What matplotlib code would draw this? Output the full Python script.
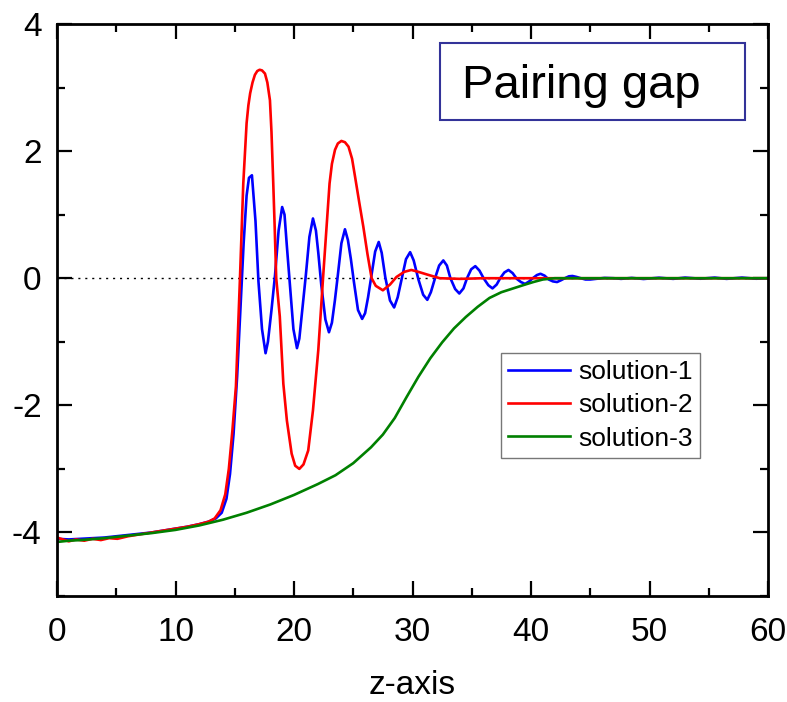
import matplotlib
matplotlib.use("Agg")
import matplotlib.pyplot as plt
from matplotlib.patches import Rectangle
from matplotlib.ticker import MultipleLocator

plt.rcParams['font.family'] = ['Liberation Sans', 'DejaVu Sans']
plt.rcParams['axes.unicode_minus'] = False

# ---------------- data ----------------
x1 = [0, 1, 2, 3, 4, 5, 6, 7, 8, 9, 10, 11, 12, 12.8, 13.4, 13.9, 14.3, 14.6, 14.9, 15.2,
      15.5, 15.75, 16.0, 16.2, 16.45, 16.75, 17.0, 17.3, 17.6, 17.8, 18.1, 18.4, 18.7, 19.0,
      19.2, 19.4, 19.65, 19.95, 20.25, 20.45, 20.7, 21.0, 21.3, 21.6, 21.85, 22.05, 22.3,
      22.65, 22.95, 23.2, 23.45, 23.7, 24.0, 24.3, 24.55, 24.8, 25.05, 25.4, 25.75, 26.0,
      26.25, 26.5, 26.85, 27.15, 27.4, 27.7, 28.1, 28.45, 28.75, 29.1, 29.45, 29.8, 30.1,
      30.5, 30.9, 31.25, 31.55, 31.9, 32.25, 32.6, 32.9, 33.2, 33.6, 33.95, 34.3, 34.6,
      34.95, 35.3, 35.65, 36.0, 36.4, 36.75, 37.1, 37.4, 37.75, 38.1, 38.45, 38.8, 39.15,
      39.5, 39.85, 40.15, 40.5, 40.8, 41.15, 41.5, 41.85, 42.2, 42.55, 42.85, 43.2, 43.5,
      43.85, 44.2, 44.6, 45.0, 45.5, 46.2, 47.0, 47.6, 48.5, 49.5, 50.8, 52.0, 53.0, 54.3,
      55.5, 56.5, 57.8, 59.0, 60.0]
y1 = [-4.10, -4.11, -4.10, -4.09, -4.08, -4.06, -4.04, -4.02, -4.00, -3.97, -3.94, -3.91,
      -3.87, -3.83, -3.78, -3.69, -3.47, -3.08, -2.45, -1.55, -0.40, 0.55, 1.30, 1.58, 1.62,
      0.90, -0.05, -0.80, -1.18, -1.00, -0.50, 0.05, 0.75, 1.12, 1.00, 0.50, -0.10, -0.80,
      -1.10, -0.95, -0.50, 0.05, 0.65, 0.94, 0.75, 0.40, -0.10, -0.65, -0.85, -0.70, -0.35,
      0.05, 0.55, 0.77, 0.60, 0.30, -0.05, -0.50, -0.64, -0.55, -0.30, 0.00, 0.42, 0.57,
      0.40, 0.02, -0.35, -0.46, -0.30, 0.00, 0.30, 0.41, 0.28, -0.02, -0.26, -0.34, -0.22,
      0.00, 0.20, 0.28, 0.20, 0.00, -0.17, -0.24, -0.16, 0.00, 0.14, 0.19, 0.12, 0.00,
      -0.11, -0.16, -0.10, 0.00, 0.09, 0.13, 0.08, -0.01, -0.06, -0.09, -0.05, 0.00, 0.05,
      0.07, 0.04, -0.02, -0.05, -0.06, -0.03, 0.00, 0.03, 0.035, 0.02, 0.00, -0.02, -0.02,
      -0.01, 0.005, 0.00, -0.01, 0.005, -0.012, 0.008, -0.01, 0.01, -0.008, 0.01, -0.01,
      0.01, -0.008, 0.00]

x2 = [0, 0.5, 1.0, 1.6, 2.3, 3.0, 3.7, 4.4, 5.1, 6.0, 7, 8, 9, 10, 11, 12, 12.8, 13.3, 13.8,
      14.2, 14.5, 14.8, 15.1, 15.44, 15.72, 16.0, 16.15, 16.3, 16.5, 16.7, 16.9, 17.1, 17.3,
      17.55, 17.75, 17.97, 18.1, 18.25, 18.37, 18.5, 18.8, 19.1, 19.4, 19.8, 20.1, 20.45,
      20.8, 21.2, 21.6, 22.05, 22.45, 23.0, 23.2, 23.46, 23.7, 24.0, 24.3, 24.6, 24.9, 25.15,
      25.5, 25.85, 26.2, 26.55, 26.9, 27.5, 28.1, 28.65, 29.3, 29.9, 30.5, 31.2, 32.3, 34.0,
      36.0, 40.0, 45.0, 50.0, 55.0, 60.0]
y2 = [-4.08, -4.11, -4.14, -4.11, -4.13, -4.10, -4.12, -4.09, -4.10, -4.06, -4.03, -4.00,
      -3.97, -3.94, -3.91, -3.87, -3.83, -3.78, -3.65, -3.40, -3.00, -2.40, -1.70, 0.00,
      1.49, 2.44, 2.72, 2.91, 3.08, 3.20, 3.26, 3.28, 3.27, 3.22, 3.08, 2.80, 2.30, 1.49,
      0.80, 0.00, -0.60, -1.66, -2.24, -2.76, -2.95, -3.00, -2.93, -2.71, -2.08, -1.13, 0.00,
      1.49, 1.80, 2.02, 2.12, 2.16, 2.14, 2.07, 1.88, 1.60, 1.20, 0.81, 0.38, 0.00, -0.12,
      -0.19, -0.10, 0.02, 0.10, 0.13, 0.10, 0.06, 0.00, -0.01, 0.00, 0.00, 0.00, 0.00, 0.00,
      0.00]

x3 = [0, 1, 2, 4, 6, 8, 10, 12, 14, 16, 18, 20, 22, 23.5, 25, 26.5, 27.5, 28.5, 29.5, 30.5,
      31.5, 32.5, 33.5, 34.5, 35.5, 36.5, 37.5, 38.5, 39.5, 40.2, 41, 42, 45, 50, 55, 60]
y3 = [-4.15, -4.13, -4.12, -4.09, -4.05, -4.01, -3.96, -3.89, -3.80, -3.69, -3.56, -3.41,
      -3.24, -3.10, -2.91, -2.66, -2.46, -2.20, -1.87, -1.55, -1.26, -1.01, -0.79, -0.61,
      -0.45, -0.31, -0.22, -0.16, -0.10, -0.06, -0.02, 0.00, 0.00, 0.00, 0.00, 0.00]

labels = ['solution-1', 'solution-2', 'solution-3']
colors = ['#0000FF', '#FF0000', '#008000']
title_text = 'Pairing gap'
xlabel = 'z-axis'

# ---------------- figure ----------------
W, H = 787, 702
fig = plt.figure(figsize=(W / 100, H / 100), dpi=100)
ax = fig.add_axes([57 / W, 1 - 596 / H, (768 - 57) / W, (596 - 24) / H])

ax.axhline(0, color='black', lw=1.0, ls=(0, (1.5, 3.5)), zorder=1)
for xs, ys, c, lab in zip([x1, x2, x3], [y1, y2, y3], colors, labels):
    ax.plot(xs, ys, color=c, lw=1.9, label=lab, zorder=2)

ax.set_xlim(0, 60)
ax.set_ylim(-5, 4)
ax.xaxis.set_major_locator(MultipleLocator(10))
ax.xaxis.set_minor_locator(MultipleLocator(5))
ax.yaxis.set_major_locator(MultipleLocator(2))
ax.yaxis.set_minor_locator(MultipleLocator(1))
ax.tick_params(which='both', direction='in', top=True, right=True, labelsize=24, width=1.6)
ax.tick_params(which='major', length=11)
ax.tick_params(which='minor', length=6)
ax.tick_params(axis='x', which='major', pad=15)
ax.tick_params(axis='y', which='major', pad=11)
for s in ax.spines.values():
    s.set_linewidth(2.0)

ax.set_xlabel(xlabel, fontsize=24, labelpad=16)

leg = ax.legend(loc='upper left', bbox_to_anchor=((500.7 - 57) / 711, (596 - 352.7) / 572),
                borderaxespad=0, fontsize=19, frameon=True, fancybox=False,
                edgecolor='#555555', handlelength=2.35, handletextpad=0.3,
                labelspacing=0.35, borderpad=0.28)
leg.get_frame().set_linewidth(1.0)

fig.patches.append(Rectangle((440 / W, 1 - 120 / H), (745 - 440) / W, (120 - 43) / H,
                             transform=fig.transFigure, fill=False,
                             edgecolor='#333399', lw=1.5))
fig.text(462 / W, 1 - 98 / H, title_text, fontsize=34, va='baseline', ha='left')

fig.savefig('out.png', dpi=100)
